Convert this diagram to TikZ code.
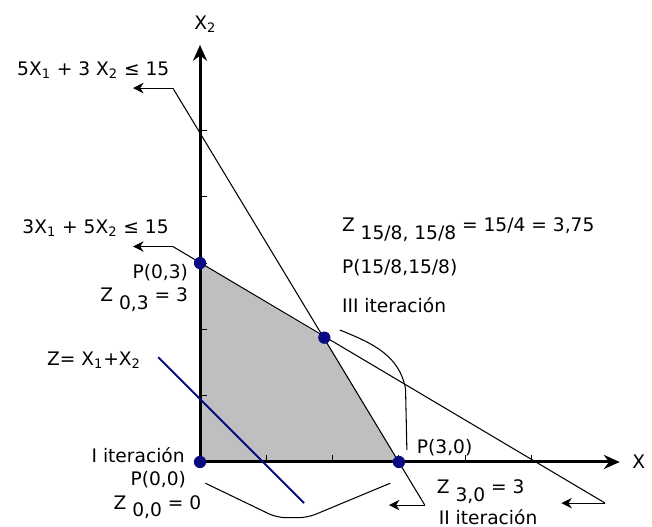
\documentclass[tikz,border=0pt]{standalone}
\usepackage{fontspec}
\setmainfont{DejaVu Sans}
\usepackage{tikz}
\usetikzlibrary{arrows.meta, positioning}
\definecolor{navy}{RGB}{10,10,130}

\newcommand{\sub}[1]{\raisebox{-0.75ex}{#1}}

\begin{document}
\begin{tikzpicture}[
        x=1.326cm, y=1.326cm,
        font=\fontsize{10.6}{12}\selectfont,
        axis/.style={line width=1.7pt, -{Stealth[length=9pt, width=8pt]}},
        constraint/.style={line width=0.6pt},
        leader/.style={line width=0.6pt, -{Stealth[length=6pt, width=6pt]}},
        route/.style={line width=0.6pt, rounded corners=5pt},
        zline/.style={navy, line width=1.1pt},
        vertex/.style={circle, fill=navy, inner sep=0pt, minimum size=7pt},
        lbl/.style={inner sep=1pt}
    ]
        \useasboundingbox (-3.017,-0.980) rectangle (6.817,6.968);

        % Feasible region
        \fill[gray!50] (0,0) -- (3,0) -- (15/8,15/8) -- (0,3) -- cycle;

        % Axes
        \coordinate (o) at (0,0);
        \coordinate (xend) at (6.33,0);
        \coordinate (yend) at (0,6.29);
        \draw[axis] (o) -- (xend);
        \draw[axis] (o) -- (yend);
        \foreach \i in {1,...,5} {
            \draw[line width=0.6pt] (\i,0) -- (\i,0.1);
            \draw[line width=0.6pt] (0,\i) -- (0.1,\i);
        }
        \node[lbl, right=6pt of xend] (xlabel) {X};
        \node[lbl, anchor=south] (ylabel) at (0.08,6.45) {X\textsubscript{2}};

        % Constraint lines
        \coordinate (c1top) at (-0.41,5.64);
        \coordinate (c1bot) at (3.39,-0.65);
        \coordinate (c1topend) at (-1.01,5.64);
        \coordinate (c1botend) at (2.85,-0.65);
        \draw[constraint] (c1top) -- (c1bot);
        \draw[leader] (c1top) -- (c1topend);
        \draw[leader] (c1bot) -- (c1botend);

        \coordinate (c2top) at (-0.41,3.25);
        \coordinate (c2bot) at (6.11,-0.62);
        \coordinate (c2topend) at (-1.01,3.25);
        \coordinate (c2botend) at (5.45,-0.62);
        \draw[constraint] (c2top) -- (c2bot);
        \draw[leader] (c2top) -- (c2topend);
        \draw[leader] (c2bot) -- (c2botend);

        % Objective line
        \coordinate (zstart) at (-0.63,1.58);
        \coordinate (zend) at (1.57,-0.62);
        \draw[zline] (zstart) -- (zend);

        % Iteration routes
        \coordinate (r1a) at (0.08,-0.32);
        \coordinate (r1b) at (2.87,-0.32);
        \draw[route] (r1a) -- (1.16,-0.84) -- (1.62,-0.84) -- (r1b);
        \coordinate (r2a) at (2.11,1.99);
        \coordinate (r2b) at (3.12,0.18);
        \draw[line width=0.6pt] (r2a) to[out=-22,in=100] (3.1,1.1) -- (r2b);

        % Vertices
        \node[vertex] (p00) at (0,0) {};
        \node[vertex] (p03) at (0,3) {};
        \node[vertex] (p30) at (3,0) {};
        \node[vertex] (popt) at (15/8,15/8) {};

        % Labels
        \node[lbl, anchor=west] (c1label) at (-2.79,5.91) {5X\textsubscript{1} + 3 X\textsubscript{2} ≤ 15};
        \node[lbl, anchor=west] (c2label) at (-2.71,3.53) {3X\textsubscript{1} + 5X\textsubscript{2} ≤ 15};
        \node[lbl, anchor=east] (zlabel) at (-0.86,1.54) {Z= X\textsubscript{1}+X\textsubscript{2}};
        \node[lbl, anchor=east] (p03label) at (-0.15,2.85) {P(0,3)};
        \node[lbl, anchor=east] (z03label) at (-0.15,2.45) {Z \sub{0,3} = 3};
        \node[lbl, anchor=east] (it1label) at (-0.2,0.11) {I iteración};
        \node[lbl, anchor=east] (p00label) at (-0.18,-0.27) {P(0,0)};
        \node[lbl, anchor=east] (z00label) at (0.05,-0.68) {Z \sub{0,0} = 0};
        \node[lbl, anchor=west] (zoptlabel) at (2.11,3.50) {Z \sub{15/8, 15/8} = 15/4 = 3,75};
        \node[lbl, anchor=west] (poptlabel) at (2.11,2.93) {P(15/8,15/8)};
        \node[lbl, anchor=west] (it3label) at (2.11,2.37) {III iteración};
        \node[lbl, anchor=west] (p30label) at (3.24,0.21) {P(3,0)};
        \node[lbl, anchor=west] (z30label) at (3.54,-0.45) {Z \sub{3,0} = 3};
        \node[lbl, anchor=west] (it2label) at (3.57,-0.83) {II iteración};
    \end{tikzpicture}
\end{document}
